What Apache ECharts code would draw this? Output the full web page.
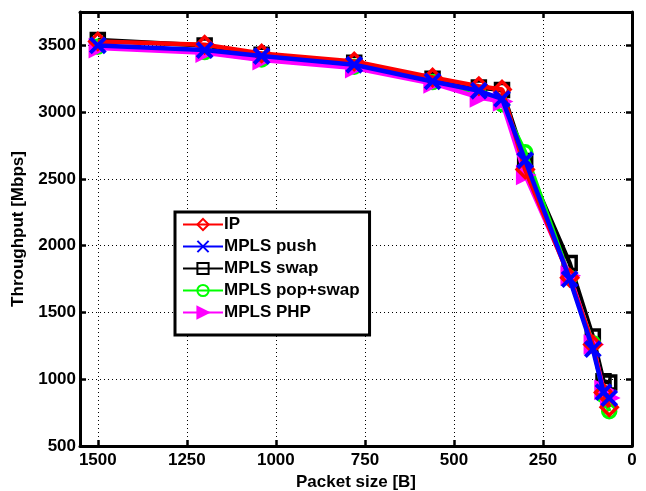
<!DOCTYPE html>
<html><head><meta charset="utf-8">
<script src="https://cdn.jsdelivr.net/npm/echarts@6/dist/echarts.min.js"></script>
<style>html,body{margin:0;padding:0;background:#fff}#c{width:646px;height:491px}</style>
</head><body><div id="c"></div>
<script>
const packetSizes = [1500, 1200, 1040, 780, 560, 430, 365, 300, 175, 110, 80, 64];
const ipValues      = [3530, 3505, 3440, 3380, 3260, 3195, 3170, 2570, 1760, 1260, 900, 790];
const pushValues    = [3500, 3465, 3420, 3355, 3230, 3160, 3100, 2640, 1750, 1225, 903, 858];
const swapValues    = [3540, 3500, 3430, 3370, 3250, 3185, 3165, 2635, 1870, 1320, 985, 975];
const popSwapValues = [3490, 3450, 3395, 3340, 3225, 3140, 3060, 2700, 1760, 1270, 880, 760];
const phpValues     = [3480, 3445, 3390, 3330, 3215, 3110, 3080, 2530, 1775, 1260, 920, 860];
const seriesNames = ['IP', 'MPLS push', 'MPLS swap', 'MPLS pop+swap', 'MPLS PHP'];

const FONT = '"Liberation Sans", Arial, sans-serif';
const pair = arr => packetSizes.map((x, i) => [x, arr[i]]);
const xPath = 'path://M0,0L10,10M10,0L0,10';
const triRight = 'path://M0,0L10,5L0,10Z';

function mk(name, data, color, symbol, size, z, filled, bw) {
  return {
    name, type: 'line', data: pair(data), z,
    symbol, symbolSize: size, showSymbol: true,
    lineStyle: { color, width: 4.5 },
    itemStyle: { color: filled ? color : 'rgba(0,0,0,0)', borderColor: color, borderWidth: bw || 3.5 },
    emphasis: { disabled: true },
    animation: false
  };
}

const chart = echarts.init(document.getElementById('c'), null, { renderer: 'canvas' });
const axisLabelStyle = { fontFamily: FONT, fontWeight: 'bold', fontSize: 17, color: '#000' };
chart.setOption({
  animation: false,
  grid: { left: 80, right: 14, top: 12, bottom: 45, containLabel: false, outerBoundsMode: 'none' },
  xAxis: [{
    type: 'value', min: 0, max: 1550, interval: 250, inverse: true,
    name: 'Packet size [B]', nameLocation: 'middle', nameGap: 28,
    nameTextStyle: { fontFamily: FONT, fontWeight: 'bold', fontSize: 17, color: '#000' },
    axisLine: { show: true, onZero: false, lineStyle: { color: '#000', width: 3 } },
    axisTick: { show: true, inside: true, length: 6, lineStyle: { color: '#000', width: 2.5 } },
    axisLabel: Object.assign({ margin: 6, formatter: v => (v % 250 === 0 ? String(v) : ''), showMaxLabel: false }, axisLabelStyle),
    splitLine: { show: true, lineStyle: { color: '#000', type: [1, 3], width: 1 } }
  }, {
    type: 'value', min: 0, max: 1550, interval: 250, inverse: true, position: 'top',
    axisLine: { show: true, onZero: false, lineStyle: { color: '#000', width: 3 } },
    axisTick: { show: true, inside: true, length: 6, lineStyle: { color: '#000', width: 2.5 } },
    axisLabel: { show: false }, splitLine: { show: false }
  }],
  yAxis: [{
    type: 'value', min: 500, max: 3750, interval: 500,
    name: 'Throughput [Mbps]', nameLocation: 'middle', nameGap: 45, nameRotate: 90,
    nameTextStyle: { fontFamily: FONT, fontWeight: 'bold', fontSize: 17, color: '#000' },
    axisLine: { show: true, onZero: false, lineStyle: { color: '#000', width: 3 } },
    axisTick: { show: true, inside: true, length: 6, lineStyle: { color: '#000', width: 2.5 } },
    axisLabel: Object.assign({ margin: 4, formatter: v => (v % 500 === 0 ? String(v) : ''), showMaxLabel: false }, axisLabelStyle),
    splitLine: { show: true, lineStyle: { color: '#000', type: [1, 3], width: 1 } }
  }, {
    type: 'value', min: 500, max: 3750, interval: 500, position: 'right',
    axisLine: { show: true, onZero: false, lineStyle: { color: '#000', width: 3 } },
    axisTick: { show: true, inside: true, length: 6, lineStyle: { color: '#000', width: 2.5 } },
    axisLabel: { show: false }, splitLine: { show: false }
  }],
  legend: {
    orient: 'vertical', left: 175, top: 212,
    data: seriesNames,
    backgroundColor: '#fff', borderColor: '#000', borderWidth: 3, borderRadius: 0,
    padding: [4, 10, 14, 7], itemGap: 5, itemWidth: 40, itemHeight: 14,
    textStyle: { fontFamily: FONT, fontWeight: 'bold', fontSize: 17, color: '#000', padding: [0, 0, 0, -4] },
    selectedMode: false
  },
  series: [
    mk('MPLS swap', swapValues, '#000000', 'rect', 13, 2, false),
    mk('MPLS pop+swap', popSwapValues, '#00ff00', 'circle', 13, 3, false),
    mk('MPLS PHP', phpValues, '#ff00ff', triRight, 15, 4, true),
    mk('IP', ipValues, '#ff0000', 'diamond', 16, 5, false),
    mk('MPLS push', pushValues, '#0000ff', xPath, 15, 6, false, 4)
  ]
});
</script>
</body></html>
